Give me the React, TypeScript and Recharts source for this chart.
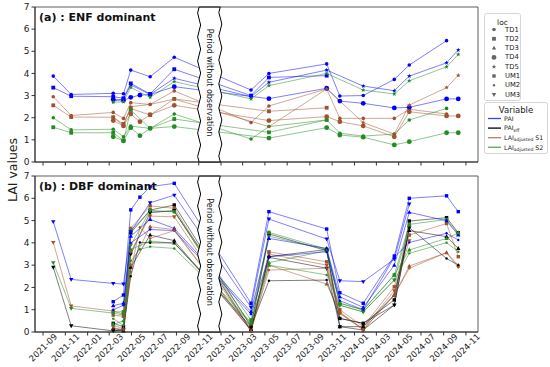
import React from 'react';
import { LineChart, Line, XAxis, YAxis, ReferenceArea } from 'recharts';

// observation dates (same campaign dates for both panels)
const dates = [
  '2021-09-29', '2021-11-17', '2022-03-12', '2022-04-09', '2022-04-29', '2022-05-24',
  '2022-06-21', '2022-08-26', '2023-03-24', '2023-05-12', '2023-10-17', '2023-11-22',
  '2024-01-25', '2024-04-19', '2024-05-30', '2024-09-09', '2024-10-11',
];

const xTicks = [
  '2021-09', '2021-11', '2022-01', '2022-03', '2022-05', '2022-07', '2022-09', '2022-11',
  '2023-01', '2023-03', '2023-05', '2023-07', '2023-09', '2023-11', '2024-01', '2024-03',
  '2024-05', '2024-07', '2024-09', '2024-11',
];
const yTicks = [0, 1, 2, 3, 4, 5, 6, 7];

// (a) ENF dominant
const aTD1PAI = [3.88, 3.05, 3.10, 3.08, 4.15, null, 3.85, 4.73, 3.25, 4.00, 4.43, 2.98, 3.00, 3.73, 4.38, 5.48, null];
const aTD1S1 = [2.95, 2.10, 2.24, 1.97, 2.68, null, 2.60, 3.21, 1.78, 2.53, 3.30, 1.97, 1.97, 1.97, 2.38, 2.17, null];
const aTD1S2 = [2.00, 1.45, 1.48, 1.14, 1.62, null, 1.52, 2.17, 1.04, 1.60, 1.90, 1.30, 1.17, 1.26, 1.90, 2.42, null];

const aTD2PAI = [3.36, 2.97, 2.95, 2.88, 3.55, null, 3.07, 4.19, 3.00, 3.82, 3.90, null, null, null, null, null, null];
const aTD2S1 = [2.56, 2.03, 2.02, 1.72, 2.42, null, 2.12, 2.85, null, 2.29, 2.45, null, null, null, null, null, null];
const aTD2S2 = [1.57, 1.32, 1.32, 0.96, 2.35, null, 1.52, 1.94, null, 1.34, 1.90, null, null, null, null, null, null];

const aTD4PAI = [null, null, 2.83, 2.78, 2.92, 3.02, 3.05, 3.40, null, 2.86, 3.33, 2.75, 2.65, 2.44, 2.47, 2.85, 2.85];
const aTD4S1 = [null, null, 1.87, 1.63, 2.17, 1.82, 2.14, 2.56, null, 1.87, 2.05, 1.82, 1.63, 1.14, 2.27, 2.08, 2.08];
const aTD4S2 = [null, null, 1.14, 0.96, 1.55, 1.19, 1.52, 1.60, null, 1.08, 1.55, 1.22, 1.12, 0.77, 0.92, 1.32, 1.32];

const aTD5PAI = [null, null, 2.75, 2.85, 3.48, null, 3.05, 3.78, 2.95, 3.60, 4.15, null, 3.43, 3.22, 3.88, 4.48, 5.06];
const aTD5S1 = [null, null, 2.02, 1.65, 2.50, null, 2.60, 2.84, null, 1.60, 3.30, null, 1.78, 1.26, 2.57, 3.36, 3.91];
const aTD5S2 = [null, null, 2.70, 2.72, 3.37, null, 2.92, 3.63, 2.85, 3.45, 4.00, null, 3.25, 3.07, 3.67, 4.30, 4.86];

// (b) DBF dominant
const bUM1PAI = [null, null, 1.36, 1.66, 5.48, 6.05, 6.52, 6.67, 1.29, 5.40, 4.62, 1.76, 1.29, 3.41, 6.00, 6.11, 5.40];
const bUM1Eff = [null, null, 0.39, 0.24, 4.45, null, 5.47, 5.70, 0.24, 4.40, 3.65, 0.61, 0.39, 1.44, 4.98, 5.13, 4.45];
const bUM1S1 = [null, null, 0.76, 0.70, 4.65, null, 5.66, 5.55, 0.10, 3.60, 3.15, 1.00, 0.24, 2.03, 4.35, 4.87, 3.38];
const bUM1S2 = [null, null, 0.90, 0.91, 4.55, null, 5.42, 5.40, 0.54, 4.47, 3.72, 1.29, 0.99, 2.56, 4.83, 5.05, 4.40];

const bUM3PAI = [4.95, 2.36, 2.18, 2.15, 4.50, null, 5.80, 6.14, 1.11, 5.07, 4.17, 2.30, 2.26, 3.27, 5.74, null, null];
const bUM3Eff = [2.90, 0.28, 0.05, 0.10, 3.50, null, 5.35, 5.45, 0.05, 3.35, 2.86, 0.24, 0.09, 1.21, 4.68, null, null];
const bUM3S1 = [4.02, 1.17, 0.94, 0.80, 3.60, null, 5.20, 5.17, 0.05, 3.50, 3.00, 0.84, 0.15, 1.85, 4.10, null, null];
const bUM3S2 = [3.11, 1.06, 0.85, 0.76, 3.90, null, 5.45, 5.40, 0.30, 4.30, 3.70, 1.20, 0.90, 2.33, 4.75, null, null];

const bTD3PAI = [null, null, 1.18, 1.29, 4.30, null, 5.05, 4.65, 0.91, 4.20, 3.75, 1.58, 1.10, 3.00, 5.37, 4.99, 4.35];
const bTD3Eff = [null, null, 0.17, 0.05, 2.90, null, 4.35, 4.10, 0.10, 3.38, 3.70, 0.24, 0.24, 1.66, 4.55, 4.28, 3.75];
const bTD3S1 = [null, null, 0.30, 0.15, 3.00, null, 4.72, 4.60, 0.05, 3.00, 2.15, 0.90, 0.10, 1.66, 2.96, 3.56, 3.00];
const bTD3S2 = [null, null, 0.35, 0.50, 3.70, null, 4.08, 3.98, 0.45, 3.11, 3.65, 1.29, 0.99, 2.56, 3.68, 4.20, 4.45];

const bUM2PAI = [null, null, 1.00, 1.20, 4.00, null, 4.60, 4.55, 0.80, 3.38, 3.60, 1.40, 1.00, 3.35, 4.02, 4.43, 4.13];
const bUM2Eff = [null, null, 0.05, 0.10, 2.50, 4.02, 4.00, 4.00, 0.24, 2.30, 2.33, 0.61, 0.39, 1.21, 4.68, 3.30, 3.00];
const bUM2S1 = [null, null, 0.20, 0.10, 2.70, 4.70, 4.20, 4.55, 0.05, 2.78, 2.86, 0.84, 0.09, 1.66, 2.86, 3.56, 2.90];
const bUM2S2 = [null, null, 0.60, 0.30, 3.20, 3.71, 3.83, 3.75, 0.40, 3.00, 2.56, 1.20, 0.90, 2.33, 3.53, 4.01, 3.60];

const FONT = '"DejaVu Sans", Verdana, sans-serif';
const COLORS: Record<string, string> = { PAI: '#0000ff', Eff: '#000000', S1: '#a0522d', S2: '#228b22' };
const locs = ['TD1', 'TD2', 'TD3', 'TD4', 'TD5', 'UM1', 'UM2', 'UM3'];

const ts = (d: string) => Date.parse(d.length === 7 ? d + '-01' : d);
const tMin = ts('2021-08-10');
const tMax = ts('2024-12-04');

const aSeries = [
  { loc: 'TD1', v: 'PAI', data: aTD1PAI }, { loc: 'TD1', v: 'S1', data: aTD1S1 }, { loc: 'TD1', v: 'S2', data: aTD1S2 },
  { loc: 'TD2', v: 'PAI', data: aTD2PAI }, { loc: 'TD2', v: 'S1', data: aTD2S1 }, { loc: 'TD2', v: 'S2', data: aTD2S2 },
  { loc: 'TD4', v: 'PAI', data: aTD4PAI }, { loc: 'TD4', v: 'S1', data: aTD4S1 }, { loc: 'TD4', v: 'S2', data: aTD4S2 },
  { loc: 'TD5', v: 'PAI', data: aTD5PAI }, { loc: 'TD5', v: 'S1', data: aTD5S1 }, { loc: 'TD5', v: 'S2', data: aTD5S2 },
];
const bSeries = [
  { loc: 'UM1', v: 'PAI', data: bUM1PAI }, { loc: 'UM1', v: 'Eff', data: bUM1Eff }, { loc: 'UM1', v: 'S1', data: bUM1S1 }, { loc: 'UM1', v: 'S2', data: bUM1S2 },
  { loc: 'UM3', v: 'PAI', data: bUM3PAI }, { loc: 'UM3', v: 'Eff', data: bUM3Eff }, { loc: 'UM3', v: 'S1', data: bUM3S1 }, { loc: 'UM3', v: 'S2', data: bUM3S2 },
  { loc: 'TD3', v: 'PAI', data: bTD3PAI }, { loc: 'TD3', v: 'Eff', data: bTD3Eff }, { loc: 'TD3', v: 'S1', data: bTD3S1 }, { loc: 'TD3', v: 'S2', data: bTD3S2 },
  { loc: 'UM2', v: 'PAI', data: bUM2PAI }, { loc: 'UM2', v: 'Eff', data: bUM2Eff }, { loc: 'UM2', v: 'S1', data: bUM2S1 }, { loc: 'UM2', v: 'S2', data: bUM2S2 },
];

const buildRows = (series: any[]) =>
  dates.map((d, i) => {
    const row: any = { t: ts(d) };
    series.forEach((s) => { row[s.loc + '_' + s.v] = s.data[i]; });
    return row;
  });
const aRows = buildRows(aSeries);
const bRows = buildRows(bSeries);

function marker(loc: string, cx: number, cy: number, color: string, key?: string) {
  switch (loc) {
    case 'TD1': return <circle key={key} cx={cx} cy={cy} r={1.8} fill={color} />;
    case 'TD2': return <rect key={key} x={cx - 1.9} y={cy - 1.9} width={3.8} height={3.8} fill={color} />;
    case 'TD3': return <polygon key={key} points={`${cx},${cy - 2.4} ${cx + 2.2},${cy + 1.5} ${cx - 2.2},${cy + 1.5}`} fill={color} />;
    case 'TD4': return <circle key={key} cx={cx} cy={cy} r={2.4} fill={color} />;
    case 'TD5': {
      const pts = [];
      for (let k = 0; k < 10; k++) {
        const r = k % 2 ? 1.0 : 2.4;
        const a = (Math.PI / 5) * k - Math.PI / 2;
        pts.push(`${cx + r * Math.cos(a)},${cy + r * Math.sin(a)}`);
      }
      return <polygon key={key} points={pts.join(' ')} fill={color} />;
    }
    case 'UM1': return <rect key={key} x={cx - 1.7} y={cy - 1.7} width={3.4} height={3.4} fill={color} />;
    case 'UM2': return <circle key={key} cx={cx} cy={cy} r={1.2} fill={color} />;
    default: return <polygon key={key} points={`${cx},${cy + 2.4} ${cx + 2.2},${cy - 1.5} ${cx - 2.2},${cy - 1.5}`} fill={color} />;
  }
}

const BreakBox = (props: any) => {
  const { x, y, width, height } = props;
  if (x == null) return <g />;
  const x0 = x, x1 = x + width, step = 12;
  let d = `M ${x0} ${y}`;
  let k = 0;
  for (let yy = y; yy < y + height; yy += step, k++) {
    const ye = Math.min(yy + step, y + height);
    d += ` Q ${x0 + (k % 2 ? 3 : -3)} ${(yy + ye) / 2} ${x0} ${ye}`;
  }
  d += ` L ${x1} ${y + height}`;
  k = 0;
  for (let yy = y + height; yy > y; yy -= step, k++) {
    const ye = Math.max(yy - step, y);
    d += ` Q ${x1 + (k % 2 ? 3 : -3)} ${(yy + ye) / 2} ${x1} ${ye}`;
  }
  d += ' Z';
  const cx = x + width / 2, cy = y + height / 2 - 2;
  return (
    <g>
      <path d={d} fill="#fff" stroke="#000" strokeWidth={1} />
      <text x={cx} y={cy} transform={`rotate(90 ${cx} ${cy})`} textAnchor="middle" dominantBaseline="central"
        fontSize={8} fontFamily={FONT} fill="#111">Period without observation</text>
    </g>
  );
};

const fmt = (t: number) => {
  const d = new Date(t);
  return `${d.getUTCFullYear()}-${String(d.getUTCMonth() + 1).padStart(2, '0')}`;
};

const XTickLabel = (props: any) => {
  const { x, y, payload } = props;
  const yy = y + 10;
  return (
    <text x={x} y={yy} transform={`rotate(-45 ${x} ${yy})`} textAnchor="middle" dominantBaseline="central"
      fontSize={8.5} fontFamily={FONT} fill="#222">{fmt(payload.value)}</text>
  );
};

function Panel({ rows, series, height, top, xLabels }: any) {
  return (
    <LineChart width={550} height={height} data={rows} margin={{ top, right: 72, bottom: 0, left: 0 }}>
      <XAxis dataKey="t" type="number" domain={[tMin, tMax]} ticks={xTicks.map(ts)} allowDataOverflow interval={0}
        height={xLabels ? 35 : 8} tickSize={3.5} tickMargin={2} stroke="#333"
        tick={xLabels ? <XTickLabel /> : () => <g />} />
      <YAxis type="number" domain={[0, 7]} ticks={yTicks} width={35} tickSize={3.5} tickMargin={2} stroke="#333"
        tick={{ fontSize: 9, fontFamily: FONT, fill: '#222' }} interval={0} />
      {series.map((s: any) => {
        const key = s.loc + '_' + s.v;
        const c = COLORS[s.v];
        return (
          <Line key={key} type="linear" dataKey={key} stroke={c} strokeOpacity={0.5} strokeWidth={1}
            connectNulls isAnimationActive={false} activeDot={false}
            dot={(p: any) => (p.cx == null || p.value == null || p.cy == null)
              ? <g key={key + p.index} />
              : marker(s.loc, p.cx, p.cy, c, key + p.index)} />
        );
      })}
      <ReferenceArea x1={ts('2022-11-02')} x2={ts('2022-12-30')} y1={0} y2={7} shape={<BreakBox />} zIndex={2000} />
      <ReferenceArea x1={tMin} x2={tMax} y1={0} y2={7} fill="none" fillOpacity={0} stroke="#333" strokeWidth={0.8} zIndex={2100} />
    </LineChart>
  );
}

const Sub = ({ main, sub, tail }: any) => (
  <>
    {main}
    <tspan fontSize={4.5} dy={1.5}>{sub}</tspan>
    <tspan dy={-1.5}>{tail}</tspan>
  </>
);

export default function App() {
  const varItems = [
    { v: 'PAI', label: <>PAI</> },
    { v: 'Eff', label: <Sub main="PAI" sub="eff" tail="" /> },
    { v: 'S1', label: <Sub main="LAI" sub="adjusted" tail=" S1" /> },
    { v: 'S2', label: <Sub main="LAI" sub="adjusted" tail=" S2" /> },
  ];
  return (
    <div style={{ position: 'absolute', left: 0, top: 0, width: 550, height: 367, background: '#fff', fontFamily: FONT }}>
      <div style={{ position: 'absolute', left: 0, top: 0 }}>
        <Panel rows={aRows} series={aSeries} height={170} top={7} xLabels={false} />
      </div>
      <div style={{ position: 'absolute', left: 0, top: 170 }}>
        <Panel rows={bRows} series={bSeries} height={197} top={6} xLabels={true} />
      </div>
      <svg width={550} height={367} style={{ position: 'absolute', left: 0, top: 0, pointerEvents: 'none' }}>
        <text x={39} y={21} fontSize={11} fontWeight="bold" fontFamily={FONT} fill="#111">(a) : ENF dominant</text>
        <text x={39} y={190} fontSize={11} fontWeight="bold" fontFamily={FONT} fill="#111">(b) : DBF dominant</text>
        <text x={12} y={170} transform="rotate(-90 12 170)" textAnchor="middle" dominantBaseline="central"
          fontSize={12.5} fontFamily={FONT} fill="#222">LAI values</text>

        <rect x={484.5} y={13.5} width={36} height={87} rx={2} fill="#fff" stroke="#d6d6d6" />
        <text x={502.5} y={22} textAnchor="middle" dominantBaseline="central" fontSize={7.5} fontFamily={FONT} fill="#222">loc</text>
        {locs.map((l, i) => {
          const cy = 29.5 + i * 9.3;
          return (
            <g key={l}>
              {marker(l, 494, cy, '#666')}
              <text x={505} y={cy} dominantBaseline="central" fontSize={6.8} fontFamily={FONT} fill="#222">{l}</text>
            </g>
          );
        })}

        <rect x={484.5} y={102.5} width={63} height={51} rx={2} fill="#fff" stroke="#d6d6d6" />
        <text x={516} y={109.5} textAnchor="middle" dominantBaseline="central" fontSize={8.5} fontFamily={FONT} fill="#222">Variable</text>
        {varItems.map((it, i) => {
          const cy = 118.5 + i * 9.6;
          return (
            <g key={it.v}>
              <line x1={488} x2={501} y1={cy} y2={cy} stroke={COLORS[it.v]} strokeWidth={1.3} strokeOpacity={it.v === 'Eff' ? 1 : 0.75} />
              <text x={504} y={cy + 2.2} fontSize={6.3} fontFamily={FONT} fill="#222">{it.label}</text>
            </g>
          );
        })}
      </svg>
    </div>
  );
}
